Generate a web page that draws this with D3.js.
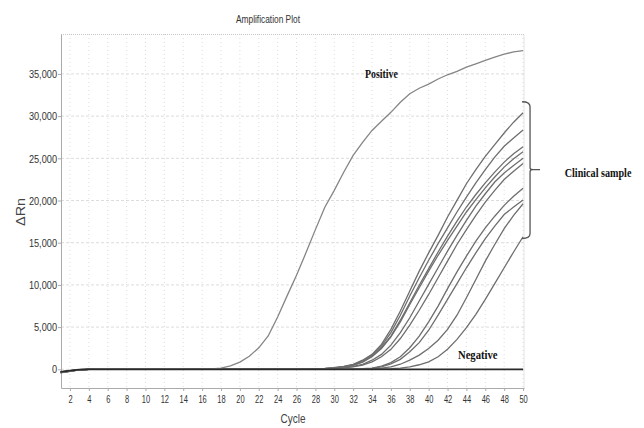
<!DOCTYPE html>
<html>
<head>
<meta charset="utf-8">
<script src="https://cdn.jsdelivr.net/npm/d3@7"></script>
<style>
  body { margin: 0; background: #fff; }
  .tick text { font-family: "Liberation Sans", Arial, sans-serif; fill: #333; }
  .note { font-family: "Liberation Serif", "Times New Roman", serif; font-weight: bold; fill: #111; }
</style>
</head>
<body>
<div class="chart"></div>
<script>
var svgWidth = 644;
var svgHeight = 428;

// plot box
var margin = { top: 34, right: 120, bottom: 40, left: 61 };
var width = svgWidth - margin.left - margin.right;
var height = svgHeight - margin.top - margin.bottom;

// cycles on the x axis
var cycles = [1,2,3,4,5,6,7,8,9,10,11,12,13,14,15,16,17,18,19,20,
  21,22,23,24,25,26,27,28,29,30,31,32,33,34,35,36,37,38,39,40,
  41,42,43,44,45,46,47,48,49,50];
var xTicks = [2,4,6,8,10,12,14,16,18,20,22,24,26,28,30,32,34,36,38,40,42,44,46,48,50];
var yTicks = [0,5000,10000,15000,20000,25000,30000,35000];

// delta Rn per cycle
var positive = [-350,-200,-60,0,20,10,0,10,20,10,
  0,10,20,10,0,20,50,150,400,850,
  1550,2550,3950,6200,8700,11150,13800,16550,19200,21200,
  23350,25350,26900,28300,29400,30450,31650,32650,33300,33800,
  34400,34900,35300,35800,36200,36600,37000,37350,37600,37750];

var negative = [-300,-150,-30,0,0,0,0,0,0,0,
  0,0,0,0,0,0,0,0,0,0,
  0,0,0,0,0,0,0,0,0,0,
  0,0,0,0,0,0,0,0,0,0,
  0,0,0,0,0,0,0,0,0,0];

var clinicalA = [-400,-220,-60,0,0,0,0,0,0,0,
  0,0,0,0,0,0,0,0,0,0,
  0,0,0,0,0,0,0,40,100,200,
  350,590,1080,1770,2960,4730,6900,9270,11630,13800,
  15870,18040,20020,21990,23660,25240,26620,28000,29280,30400];
var clinicalB = [-350,-200,-50,0,0,0,0,0,0,0,
  0,0,0,0,0,0,0,0,0,0,
  0,0,0,0,0,0,0,40,90,190,
  320,540,990,1680,2760,4340,6410,8680,10850,12920,
  14890,16760,18640,20410,22090,23660,25140,26430,27410,28350];
var clinicalC = [-300,-180,-40,0,0,0,0,0,0,0,
  0,0,0,0,0,0,0,0,0,0,
  0,0,0,0,0,0,0,30,80,150,
  300,490,890,1580,2560,3940,5820,7890,9960,11930,
  13900,15780,17550,19230,20710,22090,23370,24550,25540,26370];
var clinicalD = [-420,-240,-70,0,0,0,0,0,0,0,
  0,0,0,0,0,0,0,0,0,0,
  0,0,0,0,0,0,0,30,70,150,
  280,470,840,1480,2470,3850,5620,7690,9660,11630,
  13510,15280,16960,18640,20110,21490,22780,23960,24950,25780];
var clinicalE = [-380,-200,-60,0,0,0,0,0,0,0,
  0,0,0,0,0,0,0,0,0,0,
  0,0,0,0,0,0,0,0,50,100,
  200,350,590,1080,1770,2860,4340,6110,8090,10060,
  12030,14000,15870,17650,19330,20800,22190,23270,24160,25000];
var clinicalF = [-330,-190,-50,0,0,0,0,0,0,0,
  0,0,0,0,0,0,0,0,0,0,
  0,0,0,0,0,0,0,0,40,100,
  180,300,490,890,1480,2370,3650,5230,7000,8870,
  10850,12820,14790,16560,18240,19820,21200,22480,23470,24400];
var clinicalG = [-360,-210,-60,0,0,0,0,0,0,0,
  0,0,0,0,0,0,0,0,0,0,
  0,0,0,0,0,0,0,0,0,0,
  0,40,80,150,390,790,1480,2560,3940,5620,
  7490,9560,11540,13410,15180,16760,18140,19430,20510,21450];
var clinicalH = [-310,-170,-40,0,0,0,0,0,0,0,
  0,0,0,0,0,0,0,0,0,0,
  0,0,0,0,0,0,0,0,0,0,
  0,30,60,120,300,640,1180,2070,3160,4630,
  6410,8280,10160,12030,13800,15480,16960,18340,19230,20060];
var clinicalI = [-400,-230,-70,0,0,0,0,0,0,0,
  0,0,0,0,0,0,0,0,0,0,
  0,0,0,0,0,0,0,0,0,0,
  0,0,0,50,150,300,600,1080,1680,2470,
  3450,4730,6410,8480,10650,12820,14790,16660,18240,19620];
var clinicalJ = [-350,-200,-50,0,0,0,0,0,0,0,
  0,0,0,0,0,0,0,0,0,0,
  0,0,0,0,0,0,0,0,0,0,
  0,0,0,0,50,80,150,300,540,890,
  1480,2370,3550,4930,6510,8280,10160,12030,13900,15710];

var clinical = [clinicalA, clinicalB, clinicalC, clinicalD, clinicalE,
  clinicalF, clinicalG, clinicalH, clinicalI, clinicalJ];

var svg = d3.select(".chart")
  .append("svg")
  .attr("width", svgWidth)
  .attr("height", svgHeight);

var chartGroup = svg.append("g")
  .attr("transform", `translate(${margin.left}, ${margin.top})`);

// scales
var xLinearScale = d3.scaleLinear()
  .domain([1.05, 50.1])
  .range([0, width]);

var yLinearScale = d3.scaleLinear()
  .domain([-2215, 39730])
  .range([height, 0]);

// grid
chartGroup.append("g")
  .selectAll("line")
  .data(yTicks)
  .enter()
  .append("line")
  .attr("x1", 0)
  .attr("x2", width)
  .attr("y1", d => yLinearScale(d))
  .attr("y2", d => yLinearScale(d))
  .attr("stroke", "#dcdcdc")
  .attr("stroke-dasharray", "3,2");

chartGroup.append("g")
  .selectAll("line")
  .data(xTicks)
  .enter()
  .append("line")
  .attr("x1", d => xLinearScale(d))
  .attr("x2", d => xLinearScale(d))
  .attr("y1", 0)
  .attr("y2", height)
  .attr("stroke", "#dedede")
  .attr("stroke-dasharray", "1,3");

// frame: dotted top and right, solid axes
chartGroup.append("path")
  .attr("d", `M0,0.5H${width}V${height}`)
  .attr("fill", "none")
  .attr("stroke", "#c8c8c8")
  .attr("stroke-dasharray", "1,1");

// axes
var bottomAxis = d3.axisBottom(xLinearScale)
  .tickValues(xTicks)
  .tickSize(3)
  .tickSizeOuter(0);
var leftAxis = d3.axisLeft(yLinearScale)
  .tickValues(yTicks)
  .tickSize(3)
  .tickSizeOuter(0)
  .tickFormat(d3.format(","));

var xAxis = chartGroup.append("g")
  .attr("transform", `translate(0, ${height})`)
  .call(bottomAxis);
xAxis.select(".domain").attr("stroke", "#aaa");
xAxis.selectAll(".tick line").attr("stroke", "#aaa");
xAxis.selectAll(".tick text")
  .attr("font-size", "10px")
  .attr("dy", "0.95em")
  .attr("transform", "scale(0.75, 1)");

var yAxis = chartGroup.append("g")
  .call(leftAxis);
yAxis.select(".domain").attr("stroke", "#aaa");
yAxis.selectAll(".tick line").attr("stroke", "#aaa");
yAxis.selectAll(".tick text")
  .attr("font-size", "11.5px")
  .attr("x", -4 / 0.8)
  .attr("transform", "scale(0.8, 1)");

// curves
var line = d3.line()
  .x((d, i) => xLinearScale(cycles[i]))
  .y(d => yLinearScale(d));

chartGroup.append("g")
  .selectAll("path")
  .data(clinical)
  .enter()
  .append("path")
  .attr("d", line)
  .attr("fill", "none")
  .attr("stroke", "#6e6e6e")
  .attr("stroke-width", 1.3);

chartGroup.append("path")
  .attr("d", line(positive))
  .attr("fill", "none")
  .attr("stroke", "#858585")
  .attr("stroke-width", 1.3);

chartGroup.append("path")
  .attr("d", line(negative))
  .attr("fill", "none")
  .attr("stroke", "#2a2a2a")
  .attr("stroke-width", 1.8);

// title and axis labels
svg.append("text")
  .attr("x", 268)
  .attr("y", 23)
  .attr("text-anchor", "middle")
  .attr("font-family", "Liberation Sans, sans-serif")
  .attr("font-size", "11px")
  .attr("textLength", 64)
  .attr("lengthAdjust", "spacingAndGlyphs")
  .attr("fill", "#333")
  .text("Amplification Plot");

svg.append("text")
  .attr("x", 293)
  .attr("y", 423)
  .attr("text-anchor", "middle")
  .attr("font-family", "Liberation Sans, sans-serif")
  .attr("font-size", "13px")
  .attr("textLength", 25)
  .attr("lengthAdjust", "spacingAndGlyphs")
  .attr("fill", "#444")
  .text("Cycle");

svg.append("text")
  .attr("transform", "translate(25, 212) rotate(-90)")
  .attr("text-anchor", "middle")
  .attr("font-family", "Liberation Sans, sans-serif")
  .attr("font-size", "12px")
  .attr("textLength", 28)
  .attr("lengthAdjust", "spacingAndGlyphs")
  .attr("fill", "#444")
  .text("ΔRn");

// annotations
function note(x, y, label, sx) {
  chartGroup.append("text")
    .classed("note", true)
    .attr("transform", `translate(${x}, ${y}) scale(${sx}, 1)`)
    .attr("text-anchor", "middle")
    .attr("font-size", "13px")
    .text(label);
}
note(xLinearScale(35.0), yLinearScale(34500), "Positive", 0.76);
note(xLinearScale(45.2), yLinearScale(1200), "Negative", 0.82);
note(xLinearScale(50) + 75, yLinearScale(22800), "Clinical sample", 0.78);

// bracket for the clinical samples
var bx = xLinearScale(50) + 7;
var bTop = yLinearScale(31700);
var bMid = yLinearScale(23650);
var bBot = yLinearScale(15500);
chartGroup.append("path")
  .attr("d", `M${bx - 8},${bTop} Q${bx},${bTop} ${bx},${bTop + 5} V${bMid - 2} Q${bx},${bMid} ${bx + 3},${bMid} H${bx + 10} M${bx + 3},${bMid} Q${bx},${bMid} ${bx},${bMid + 2} V${bBot - 5} Q${bx},${bBot} ${bx - 8},${bBot}`)
  .attr("fill", "none")
  .attr("stroke", "#555")
  .attr("stroke-width", 1.3);
</script>
</body>
</html>
